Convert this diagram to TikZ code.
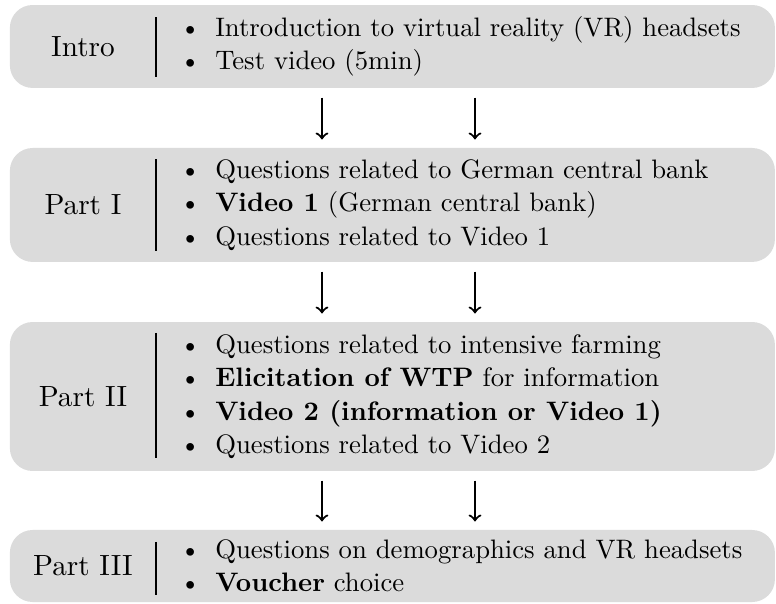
\documentclass[tikz,border=0pt]{standalone}

\newcommand{\bul}{\textbullet\hspace{5.5pt}}

\begin{document}
\begin{tikzpicture}[
	stage/.style={fill=black!14,rounded corners=0.3cm,minimum width=10.07cm,inner sep=0pt},
	part/.style={font=\fontsize{10.95}{13.6}\selectfont},
	items/.style={anchor=west,align=left,inner sep=0pt,font=\fontsize{10}{12.5}\selectfont},
	flow/.style={thick,->,shorten <=0.12cm,shorten >=0.105cm}]
	\useasboundingbox (0,0) rectangle (10.214,-7.95);
	\coordinate (colL) at (4.238,0);
	\coordinate (colR) at (6.252,0);

	\node[stage,minimum height=1.092cm] (A) at (5.165,-0.612) {};
	\node[stage,minimum height=1.50cm] (B) at (5.165,-2.698) {};
	\node[stage,minimum height=1.961cm] (C) at (5.165,-5.219) {};
	\node[stage,minimum height=0.948cm] (D) at (5.165,-7.45) {};

	\node[part] (AL) at (1.092,-0.612) {Intro};
	\node[part] (BL) at (1.092,-2.698) {Part I};
	\node[part] (CL) at (1.092,-5.219) {Part II};
	\node[part] (DL) at (1.092,-7.45) {Part III};

	\draw (2.053,-0.224) -- (2.053,-1.013);
	\draw (2.053,-2.093) -- (2.053,-3.304);
	\draw (2.053,-4.383) -- (2.053,-6.028);
	\draw (2.053,-7.134) -- (2.053,-7.831);

	\node[items] (AT) at (2.36,-0.612) {\bul Introduction to virtual reality (VR) headsets\\
		\bul Test video (5min)};
	\node[items] (BT) at (2.36,-2.698) {\bul Questions related to German central bank\\
		\bul \textbf{Video 1} (German central bank)\\
		\bul Questions related to Video 1};
	\node[items] (CT) at (2.36,-5.219) {\bul Questions related to intensive farming\\
		\bul \textbf{Elicitation of WTP} for information\\
		\bul \textbf{Video 2 (information or Video 1)}\\
		\bul Questions related to Video 2};
	\node[items] (DT) at (2.36,-7.45) {\bul Questions on demographics and VR headsets\\
		\bul \textbf{Voucher} choice};

	\draw[flow] (A.south -| colL) -- (B.north -| colL);
	\draw[flow] (A.south -| colR) -- (B.north -| colR);
	\draw[flow] (B.south -| colL) -- (C.north -| colL);
	\draw[flow] (B.south -| colR) -- (C.north -| colR);
	\draw[flow] (C.south -| colL) -- (D.north -| colL);
	\draw[flow] (C.south -| colR) -- (D.north -| colR);
\end{tikzpicture}
\end{document}
